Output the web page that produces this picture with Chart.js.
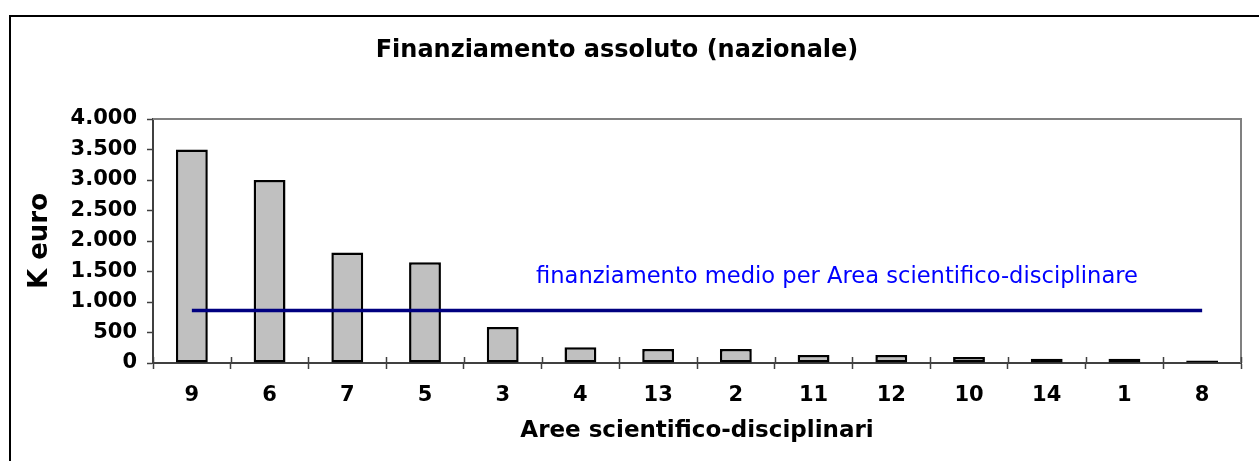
<!DOCTYPE html>
<html>
<head>
<meta charset="utf-8">
<script src="https://cdn.jsdelivr.net/npm/chart.js@4/dist/chart.umd.min.js"></script>
<style>
  html, body { margin: 0; padding: 0; background: #ffffff; }
  #c { display: block; }
</style>
</head>
<body>
<canvas id="c" width="1259" height="461"></canvas>
<script>
// ---- data ----
const categories = ['9', '6', '7', '5', '3', '4', '13', '2', '11', '12', '10', '14', '1', '8'];
const finanziamento = [3500, 3000, 1810, 1650, 590, 260, 230, 230, 130, 130, 100, 70, 70, 40];
const finanziamentoMedio = [860, 860, 860, 860, 860, 860, 860, 860, 860, 860, 860, 860, 860, 860];
const yTickValues = [0, 500, 1000, 1500, 2000, 2500, 3000, 3500, 4000];
const yTickLabels = ['0', '500', '1.000', '1.500', '2.000', '2.500', '3.000', '3.500', '4.000'];
const chartTitle = 'Finanziamento assoluto (nazionale)';
const xTitle = 'Aree scientifico-disciplinari';
const yTitle = 'K euro';
const mediaLabel = 'finanziamento medio per Area scientifico-disciplinare';

const FONT = "'DejaVu Sans', Verdana, sans-serif";

const decorPlugin = {
  id: 'decor',
  beforeDraw(chart) {
    const ctx = chart.ctx;
    ctx.save();
    ctx.fillStyle = '#ffffff';
    ctx.fillRect(0, 0, chart.width, chart.height);
    ctx.restore();
  },
  afterDraw(chart) {
    const ctx = chart.ctx;
    const a = chart.chartArea;
    ctx.save();
    // plot area border (top & right)
    ctx.strokeStyle = '#808080';
    ctx.lineWidth = 2;
    ctx.beginPath();
    ctx.moveTo(a.left, a.top);
    ctx.lineTo(a.right, a.top);
    ctx.lineTo(a.right, a.bottom);
    ctx.stroke();
    // inner half of x tick marks
    const xs = chart.scales.x;
    ctx.strokeStyle = '#404040';
    ctx.lineWidth = 1.5;
    ctx.beginPath();
    for (let i = 0; i <= categories.length; i++) {
      const px = xs.left + (xs.right - xs.left) * i / categories.length;
      ctx.moveTo(Math.round(px) + 0.5, a.bottom);
      ctx.lineTo(Math.round(px) + 0.5, a.bottom - 6);
    }
    ctx.stroke();
    // outer chart border
    ctx.strokeStyle = '#000000';
    ctx.lineWidth = 2;
    ctx.strokeRect(10, 16, 1400, 1000);
    // title
    ctx.fillStyle = '#000000';
    ctx.font = 'bold 24px ' + FONT;
    ctx.textAlign = 'center';
    ctx.textBaseline = 'alphabetic';
    ctx.fillText(chartTitle, 617, 57);
    // average label
    ctx.fillStyle = '#0000ff';
    ctx.font = '22.6px ' + FONT;
    ctx.textAlign = 'left';
    ctx.fillText(mediaLabel, 536, 283);
    ctx.restore();
  }
};

new Chart(document.getElementById('c'), {
  data: {
    labels: categories,
    datasets: [
      {
        type: 'line',
        label: 'finanziamento medio',
        data: finanziamentoMedio,
        borderColor: '#000080',
        borderWidth: 3.5,
        pointRadius: 0,
        fill: false,
        order: 0
      },
      {
        type: 'bar',
        label: 'finanziamento',
        data: finanziamento,
        backgroundColor: '#c0c0c0',
        borderColor: '#000000',
        borderWidth: 2.5,
        borderSkipped: false,
        categoryPercentage: 0.41,
        barPercentage: 1.0,
        order: 1
      }
    ]
  },
  options: {
    responsive: false,
    devicePixelRatio: 1,
    animation: false,
    events: [],
    layout: { padding: { top: 119, right: 18, left: 0, bottom: 0 } },
    plugins: {
      legend: { display: false },
      tooltip: { enabled: false },
      title: { display: false }
    },
    scales: {
      x: {
        offset: true,
        afterFit(s) { s.height = 98; },
        border: { display: true, color: '#404040', width: 2 },
        grid: {
          offset: true,
          drawOnChartArea: false,
          drawTicks: true,
          tickLength: 6,
          tickColor: '#404040',
          tickWidth: 1.5
        },
        ticks: {
          color: '#000000',
          font: { family: FONT, size: 21, weight: 'bold' },
          padding: 14,
          maxRotation: 0,
          autoSkip: false
        },
        title: {
          display: true,
          text: xTitle,
          color: '#000000',
          font: { family: FONT, size: 23, weight: 'bold' },
          padding: { top: 0, bottom: 16 }
        }
      },
      y: {
        min: 0,
        max: 4000,
        afterFit(s) { s.width = 153; },
        afterBuildTicks(s) { s.ticks = yTickValues.map(v => ({ value: v })); },
        border: { display: true, color: '#404040', width: 2 },
        grid: {
          drawOnChartArea: false,
          drawTicks: true,
          tickLength: 6,
          tickColor: '#404040',
          tickWidth: 1.5
        },
        ticks: {
          color: '#000000',
          font: { family: FONT, size: 21, weight: 'bold' },
          padding: 10,
          callback(value) {
            const i = yTickValues.indexOf(value);
            return i >= 0 ? yTickLabels[i] : '';
          }
        },
        title: {
          display: true,
          text: yTitle,
          color: '#000000',
          font: { family: FONT, size: 26, weight: 'bold' },
          padding: { top: 25, bottom: 0 }
        }
      }
    }
  },
  plugins: [decorPlugin]
});
</script>
</body>
</html>
